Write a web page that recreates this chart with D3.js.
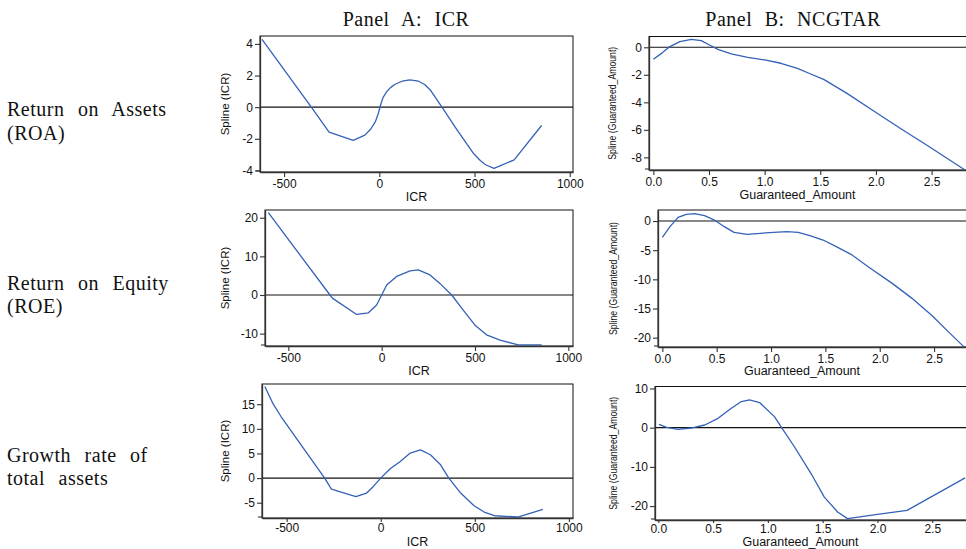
<!DOCTYPE html>
<html>
<head>
<meta charset="utf-8">
<script src="https://cdn.jsdelivr.net/npm/d3@7"></script>
<style>
  body { margin: 0; background: #fff; }
  svg { display: block; }
  .tick text { font-family: "Liberation Sans", Arial, sans-serif; font-size: 12px; fill: #111; }
  .serif { font-family: "Liberation Serif", "Times New Roman", serif; fill: #111; }
  .sans { font-family: "Liberation Sans", Arial, sans-serif; fill: #111; }
</style>
</head>
<body>
<svg id="chart" width="966" height="549"></svg>
<script>
// Column headers and row labels
const panelTitles = ["Panel A: ICR", "Panel B: NCGTAR"];
const rowLabels = [
  ["Return on Assets", "(ROA)"],
  ["Return on Equity", "(ROE)"],
  ["Growth rate of", "total assets"]
];

// Tick values
const icrTicks = [-500, 0, 500, 1000];
const amountTicks = [0, 0.5, 1.0, 1.5, 2.0, 2.5];
const roaIcrTicks = [-4, -2, 0, 2, 4];
const roaAmtTicks = [-8, -6, -4, -2, 0];
const roeIcrTicks = [-10, 0, 10, 20];
const roeAmtTicks = [-20, -15, -10, -5, 0];
const grIcrTicks = [-5, 0, 5, 10, 15];
const grAmtTicks = [-20, -10, 0, 10];

// Spline estimates: ROA vs ICR
const roaIcrX = [-616, -357, -264, -137, -76, -45, -20, -5, 8, 20, 39, 60, 83, 120, 160, 206, 240, 270, 329, 408, 496, 530, 558, 602, 708, 852];
const roaIcrY = [4.29, 0, -1.58, -2.1, -1.77, -1.38, -0.9, -0.38, 0.2, 0.62, 0.99, 1.25, 1.45, 1.64, 1.72, 1.64, 1.42, 1.05, 0, -1.43, -2.95, -3.37, -3.64, -3.87, -3.33, -1.16];

// Spline estimates: ROA vs Guaranteed_Amount
const roaAmtX = [0, 0.074, 0.149, 0.238, 0.342, 0.43, 0.505, 0.58, 0.7, 0.848, 1.0, 1.146, 1.295, 1.414, 1.53, 1.74, 1.98, 2.217, 2.455, 2.80];
const roaAmtY = [-0.87, -0.44, 0.05, 0.41, 0.58, 0.48, 0.17, -0.15, -0.48, -0.73, -0.92, -1.16, -1.53, -1.94, -2.33, -3.35, -4.63, -5.89, -7.1, -8.92];

// Spline estimates: ROE vs ICR
const roeIcrX = [-607, -277, -262, -134, -71, -27, 0, 27, 80, 152, 196, 259, 312, 375, 437, 500, 562, 634, 732, 857];
const roeIcrY = [21.3, 0, -0.87, -5.04, -4.6, -2.6, 0, 2.6, 4.8, 6.26, 6.5, 5.2, 3.0, 0, -3.9, -7.8, -10.3, -11.7, -12.9, -12.9];

// Spline estimates: ROE vs Guaranteed_Amount
const roeAmtX = [0, 0.07, 0.145, 0.22, 0.297, 0.388, 0.479, 0.57, 0.66, 0.78, 0.903, 1.024, 1.145, 1.25, 1.357, 1.479, 1.6, 1.736, 1.9, 2.115, 2.297, 2.48, 2.63, 2.78];
const roeAmtY = [-2.8, -0.97, 0.63, 1.14, 1.26, 0.91, 0.17, -0.97, -1.94, -2.29, -2.11, -1.94, -1.83, -1.94, -2.51, -3.26, -4.4, -5.71, -7.94, -10.69, -13.26, -16.2, -18.97, -21.66];

// Spline estimates: growth rate of total assets vs ICR
const grIcrX = [-616, -571, -530, -298, -262, -132, -75, -39, 0, 50, 104, 157, 211, 264, 318, 362, 425, 496, 550, 604, 729, 862];
const grIcrY = [18.6, 15.0, 12.5, 0, -2.23, -3.78, -3.04, -1.69, 0, 1.89, 3.38, 5.07, 5.74, 4.73, 2.7, 0, -3.04, -5.6, -6.89, -7.64, -7.9, -6.35];

// Spline estimates: growth rate of total assets vs Guaranteed_Amount
const grAmtX = [0.006, 0.076, 0.18, 0.30, 0.424, 0.545, 0.667, 0.758, 0.833, 0.924, 1.06, 1.136, 1.242, 1.394, 1.515, 1.636, 1.727, 2.0, 2.27, 2.80];
const grAmtY = [0.85, 0.09, -0.43, -0.09, 0.68, 2.39, 4.96, 6.67, 7.09, 6.41, 2.82, -0.43, -4.87, -11.7, -17.7, -21.5, -23.2, -22.1, -21.1, -12.8];

const svg = d3.select("#chart");

// Panel layout: plot box in pixels, the value range it spans, and x-axis label spacing
const panels = [
  { xs: roaIcrX, ys: roaIcrY, xTicks: icrTicks, yTicks: roaIcrTicks, fmt: d => String(d),
    box: [260, 573, 36, 172], xDom: [-626.6, 1017], yDom: [-4.1, 4.5], tick: 5, pad: 2, titleY: 201,
    xTitle: "ICR", yTitle: "Spline (ICR)", yTitleX: 225, condensed: false },
  { xs: roaAmtX, ys: roaAmtY, xTicks: amountTicks, yTicks: roaAmtTicks, fmt: d => d.toFixed(1),
    box: [649, 968, 36.5, 170], xDom: [-0.039, 2.827], yDom: [-8.92, 0.785], tick: 5, pad: 2, titleY: 199,
    xTitle: "Guaranteed_Amount", yTitle: "Spline (Guaranteed_Amount)", yTitleX: 612, condensed: true },
  { xs: roeIcrX, ys: roeIcrY, xTicks: icrTicks, yTicks: roeIcrTicks, fmt: d => String(d),
    box: [265, 573, 210, 346], xDom: [-625, 1025], yDom: [-13.2, 22], tick: 5, pad: 2, titleY: 375,
    xTitle: "ICR", yTitle: "Spline (ICR)", yTitleX: 225, condensed: false },
  { xs: roeAmtX, ys: roeAmtY, xTicks: amountTicks, yTicks: roeAmtTicks, fmt: d => d.toFixed(1),
    box: [658, 968, 210, 347], xDom: [-0.04, 2.812], yDom: [-21.6, 1.89], tick: 5, pad: 2, titleY: 375,
    xTitle: "Guaranteed_Amount", yTitle: "Spline (Guaranteed_Amount)", yTitleX: 613, condensed: true },
  { xs: grIcrX, ys: grIcrY, xTicks: icrTicks, yTicks: grIcrTicks, fmt: d => String(d),
    box: [262, 573, 384, 518], xDom: [-631, 1022], yDom: [-8.1, 19.1], tick: 4, pad: 1, titleY: 546,
    xTitle: "ICR", yTitle: "Spline (ICR)", yTitleX: 225, condensed: false },
  { xs: grAmtX, ys: grAmtY, xTicks: amountTicks, yTicks: grAmtTicks, fmt: d => d.toFixed(1),
    box: [655, 968, 386.5, 520], xDom: [-0.03, 2.826], yDom: [-23.55, 10.5], tick: 3, pad: 1, titleY: 546,
    xTitle: "Guaranteed_Amount", yTitle: "Spline (Guaranteed_Amount)", yTitleX: 613, condensed: true }
];

panels.forEach(p => {
  const [l, r, t, b] = p.box;
  const x = d3.scaleLinear().domain(p.xDom).range([l, r]);
  const y = d3.scaleLinear().domain(p.yDom).range([b, t]);
  const g = svg.append("g");

  // frame
  g.append("rect")
    .attr("x", l).attr("y", t).attr("width", r - l).attr("height", b - t)
    .attr("fill", "none").attr("stroke", "#111").attr("stroke-width", 1);

  // reference line at zero
  g.append("line")
    .attr("x1", l).attr("x2", r).attr("y1", y(0)).attr("y2", y(0))
    .attr("stroke", "#111").attr("stroke-width", 1.1);

  // spline curve
  const pts = p.xs.map((v, i) => [v, p.ys[i]]);
  g.append("path")
    .datum(pts)
    .attr("fill", "none")
    .attr("stroke", "#3461b8")
    .attr("stroke-width", 1.3)
    .attr("stroke-linejoin", "round")
    .attr("d", d3.line().x(d => x(d[0])).y(d => y(d[1])));

  // axes
  const ax = g.append("g").attr("transform", `translate(0,${b})`)
    .call(d3.axisBottom(x).tickValues(p.xTicks).tickFormat(p.fmt).tickSize(p.tick).tickSizeOuter(0).tickPadding(p.pad));
  const ay = g.append("g").attr("transform", `translate(${l},0)`)
    .call(d3.axisLeft(y).tickValues(p.yTicks).tickFormat(d => String(d)).tickSize(5).tickSizeOuter(0).tickPadding(2));
  [ax, ay].forEach(a => {
    a.select(".domain").attr("stroke", "#333").attr("stroke-width", 1.3);
    a.selectAll(".tick line").attr("stroke", "#333").attr("stroke-width", 1.1);
  });
  // small end mark at the foot of the vertical axis
  g.append("line").attr("x1", l - 4).attr("x2", l).attr("y1", b - 1).attr("y2", b - 1)
    .attr("stroke", "#333").attr("stroke-width", 1.1);

  // axis titles
  g.append("text").attr("class", "sans")
    .attr("x", (l + Math.min(r, 966)) / 2 + (p.condensed ? -10 : 0)).attr("y", p.titleY)
    .attr("text-anchor", "middle").attr("font-size", 12.5)
    .text(p.xTitle);

  const yt = g.append("text").attr("class", "sans")
    .attr("transform", `translate(${p.yTitleX},${(t + b) / 2}) rotate(-90)`)
    .attr("text-anchor", "middle").attr("dy", "0.35em")
    .attr("font-size", p.condensed ? 11 : 11.5)
    .text(p.yTitle);
  if (p.condensed) yt.attr("textLength", 113).attr("lengthAdjust", "spacingAndGlyphs");
});

// column headers
const headerX = [406, 793];
panelTitles.forEach((s, i) => {
  svg.append("text").attr("class", "serif")
    .attr("x", headerX[i]).attr("y", 26)
    .attr("text-anchor", "middle").attr("font-size", 20)
    .attr("letter-spacing", 0.5).attr("word-spacing", 7)
    .text(s);
});

// row labels
const rowBaselines = [[116, 140], [290, 313], [462, 485]];
rowLabels.forEach((lines, i) => {
  lines.forEach((s, j) => {
    svg.append("text").attr("class", "serif")
      .attr("x", 7).attr("y", rowBaselines[i][j])
      .attr("font-size", 20).attr("letter-spacing", 0.5).attr("word-spacing", 8)
      .text(s);
  });
});
</script>
</body>
</html>
